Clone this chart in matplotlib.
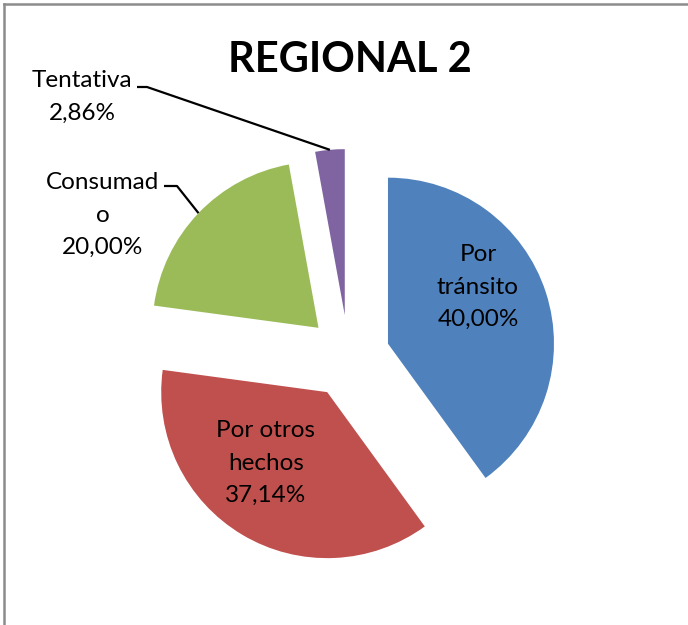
import numpy as np
import matplotlib
matplotlib.use("Agg")
import matplotlib.pyplot as plt
from matplotlib.lines import Line2D

W, H = 688, 625

labels = ["Por tránsito", "Por otros hechos", "Consumado", "Tentativa"]
values = [40.00, 37.14, 20.00, 2.86]
colors = ["#4F81BD", "#C0504D", "#9BBB59", "#8064A2"]
title = "REGIONAL 2"

# pie center and radius on the canvas, in pixels
cx, cy, rad = 348.5, 356.5, 166.0

plt.rcParams["font.family"] = ["Lato", "DejaVu Sans"]


def px(x, y):
    # canvas pixel -> data coordinates (pie has radius 1 at the origin)
    return (x - cx) / rad, (cy - y) / rad


fig = plt.figure(figsize=(W / 100, H / 100), dpi=100)
ax = fig.add_axes([0, 0, 1, 1])
wedges, _ = ax.pie(values, colors=colors, startangle=90, counterclock=False,
                   explode=[0.25] * len(values), radius=1, center=(0, 0),
                   wedgeprops=dict(linewidth=0))
ax.set_xlim((0 - cx) / rad, (W - cx) / rad)
ax.set_ylim((cy - H) / rad, (cy - 0) / rad)
ax.set_aspect("auto")
ax.axis("off")


def fmt(v):
    return ("%.2f%%" % v).replace(".", ",")


def arc_mid(w):
    a = np.deg2rad((w.theta1 + w.theta2) / 2)
    x0, y0 = w.center
    return x0 + w.r * np.cos(a), y0 + w.r * np.sin(a)


lab = dict(ha="center", va="center", fontsize=17.5, linespacing=1.65)

# labels inside the two big slices
ax.text(*px(478, 287), "Por\ntránsito\n" + fmt(values[0]), **lab)
ax.text(*px(266, 463), "Por otros\nhechos\n" + fmt(values[1]), **lab)

# outside labels with leader lines
ax.text(*px(82, 97), "Tentativa\n" + fmt(values[3]), **lab)
ax.text(*px(103, 215), "Consumad\no\n" + fmt(values[2]), **lab)

for w, p0, p1 in [(wedges[3], (137, 87), (147, 87)), (wedges[2], (164, 186), (177, 186))]:
    mx, my = arc_mid(w)
    xs = [px(*p0)[0], px(*p1)[0], mx]
    ys = [px(*p0)[1], px(*p1)[1], my]
    ax.plot(xs, ys, color="black", linewidth=1.6, solid_capstyle="butt")

ax.text(*px(350, 60), title, ha="center", va="center", fontsize=30, fontweight="bold")

# chart frame (top and left edges)
fig.add_artist(Line2D([4 / W, 4 / W], [0, 1 - 4 / H], transform=fig.transFigure,
                      color="#8c8c8c", linewidth=1.8))
fig.add_artist(Line2D([4 / W, 1], [1 - 4 / H, 1 - 4 / H], transform=fig.transFigure,
                      color="#8c8c8c", linewidth=1.8))

fig.savefig("out.png", dpi=100)
